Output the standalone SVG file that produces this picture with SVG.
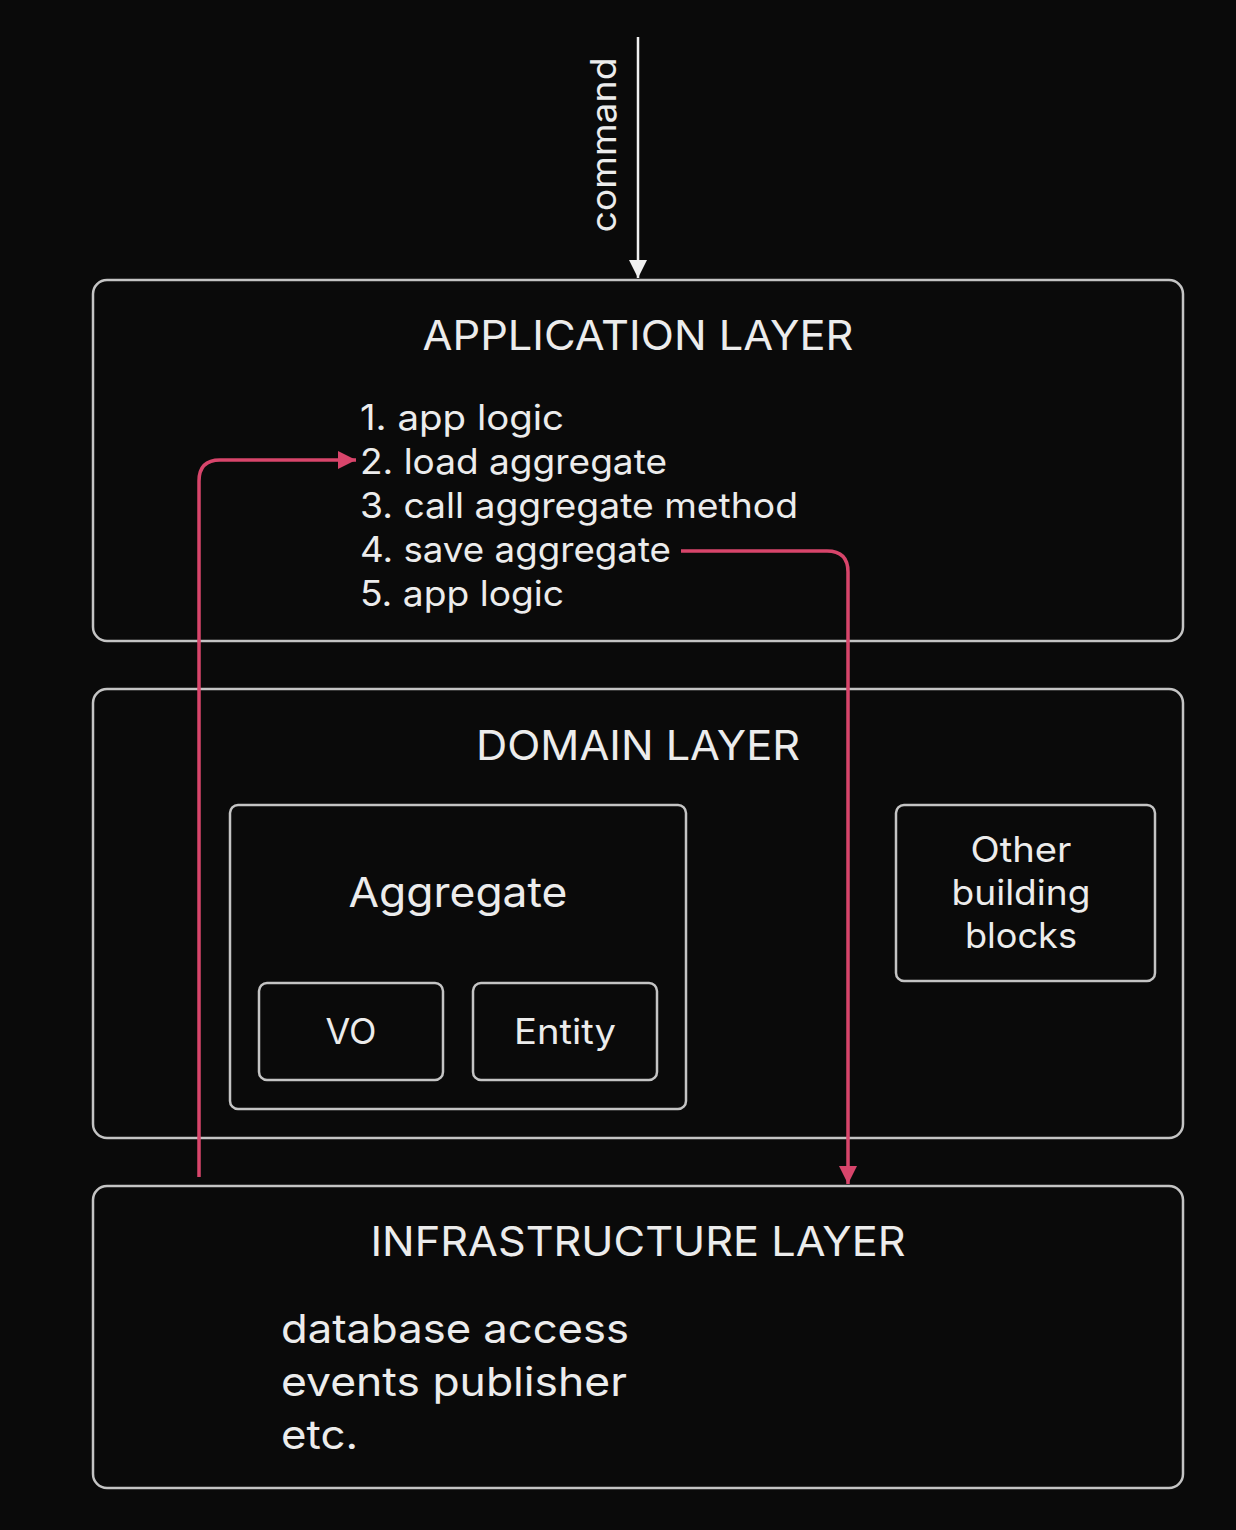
<svg xmlns="http://www.w3.org/2000/svg" width="1236" height="1530" viewBox="0 0 1236 1530">
<defs>
<style>
.box{fill:none;stroke:#c4c4c4;stroke-width:2.5}
.t{fill:#ececec;font-family:Inter,"Noto Sans","Liberation Sans",sans-serif}
.title{font-size:41px;text-anchor:middle}
.item{font-size:35px}
.red{fill:none;stroke:#d8456b;stroke-width:3.5}
</style>
<marker id="ahw" viewBox="0 0 10 10" refX="10" refY="5" markerWidth="18" markerHeight="20" markerUnits="userSpaceOnUse" orient="auto">
<path d="M0,0 L10,5 L0,10 z" fill="#f0f0f0"/>
</marker>
<marker id="ahr" viewBox="0 0 10 10" refX="10" refY="5" markerWidth="18" markerHeight="18" markerUnits="userSpaceOnUse" orient="auto">
<path d="M0,0 L10,5 L0,10 z" fill="#d8456b"/>
</marker>
</defs>
<rect width="1236" height="1530" fill="#0a0a0a"/>

<g id="application-layer">
<rect class="box" x="93" y="280" width="1090" height="361" rx="14"/>
<text class="t title" x="638" y="350" textLength="431" lengthAdjust="spacingAndGlyphs">APPLICATION LAYER</text>
<text class="t item" x="360" y="430" textLength="204" lengthAdjust="spacingAndGlyphs">1. app logic</text>
<text class="t item" x="360" y="474" textLength="307" lengthAdjust="spacingAndGlyphs">2. load aggregate</text>
<text class="t item" x="360" y="518" textLength="438" lengthAdjust="spacingAndGlyphs">3. call aggregate method</text>
<text class="t item" x="360" y="562" textLength="311" lengthAdjust="spacingAndGlyphs">4. save aggregate</text>
<text class="t item" x="360" y="606" textLength="204" lengthAdjust="spacingAndGlyphs">5. app logic</text>
</g>

<g id="domain-layer">
<rect class="box" x="93" y="689" width="1090" height="449" rx="14"/>
<text class="t title" x="638" y="760" textLength="324" lengthAdjust="spacingAndGlyphs">DOMAIN LAYER</text>
</g>

<g id="aggregate">
<rect class="box" x="230" y="805" width="456" height="304" rx="8"/>
<text class="t title" x="458" y="907" textLength="219" lengthAdjust="spacingAndGlyphs">Aggregate</text>
</g>

<g id="vo">
<rect class="box" x="259" y="983" width="184" height="97" rx="8"/>
<text class="t" x="351" y="1044" font-size="35" text-anchor="middle" textLength="51" lengthAdjust="spacingAndGlyphs">VO</text>
</g>

<g id="entity">
<rect class="box" x="473" y="983" width="184" height="97" rx="8"/>
<text class="t" x="565" y="1044" font-size="35" text-anchor="middle" textLength="102" lengthAdjust="spacingAndGlyphs">Entity</text>
</g>

<g id="other-building-blocks">
<rect class="box" x="896" y="805" width="259" height="176" rx="8"/>
<text class="t" font-size="35" text-anchor="middle"><tspan x="1021" y="862" textLength="101" lengthAdjust="spacingAndGlyphs">Other</tspan><tspan x="1021" y="905" textLength="139" lengthAdjust="spacingAndGlyphs">building</tspan><tspan x="1021" y="948" textLength="112" lengthAdjust="spacingAndGlyphs">blocks</tspan></text>
</g>

<g id="infrastructure-layer">
<rect class="box" x="93" y="1186" width="1090" height="302" rx="14"/>
<text class="t title" x="638" y="1256" textLength="535" lengthAdjust="spacingAndGlyphs">INFRASTRUCTURE LAYER</text>
<text class="t" font-size="40"><tspan x="281" y="1343" textLength="348" lengthAdjust="spacingAndGlyphs">database access</tspan><tspan x="281" y="1396" textLength="346" lengthAdjust="spacingAndGlyphs">events publisher</tspan><tspan x="281" y="1449" textLength="77" lengthAdjust="spacingAndGlyphs">etc.</tspan></text>
</g>

<g id="connectors">
<line x1="638" y1="37" x2="638" y2="278" stroke="#f0f0f0" stroke-width="2.5" marker-end="url(#ahw)"/>
<text class="t" font-size="35" text-anchor="middle" transform="translate(616,145) rotate(-90)" textLength="175" lengthAdjust="spacingAndGlyphs">command</text>
<path class="red" d="M199,1177 V481 Q199,460 220,460 H356" marker-end="url(#ahr)"/>
<path class="red" d="M681,551 H827 Q848,551 848,572 V1184" marker-end="url(#ahr)"/>
</g>
</svg>
